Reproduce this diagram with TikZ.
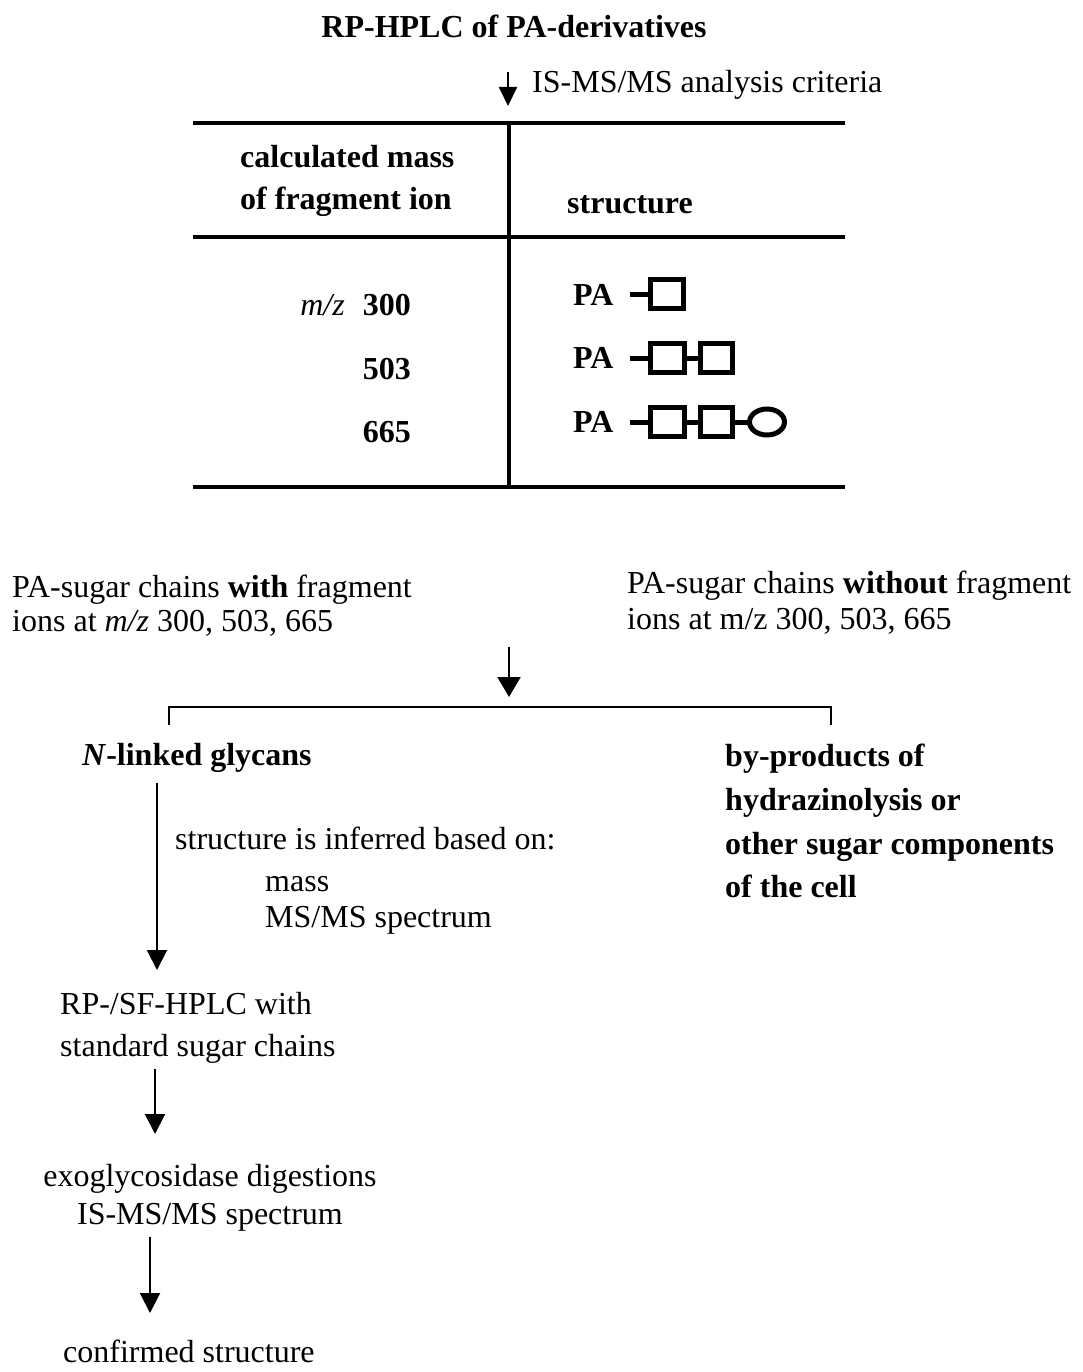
\documentclass[tikz,border=0pt]{standalone}
\usepackage{fontspec}
\setmainfont{Liberation Serif}
\usetikzlibrary{arrows.meta}
\begin{document}
\begin{tikzpicture}[x=1pt,y=-1pt,
  txt/.style={inner sep=0pt, font=\fontsize{32}{38}\selectfont, anchor=base west},
  ctxt/.style={txt, anchor=base},
  rtxt/.style={txt, anchor=base east},
  tablerule/.style={line width=4pt},
  flow/.style={line width=2pt, -{Triangle[length=20pt,width=20pt]}},
  bracketline/.style={line width=1.6pt},
  sugar/.style={line width=5pt}]
\useasboundingbox[fill=white] (0,0) rectangle (1082,1372);

% title and first arrow
\node[ctxt] (title) at (514,38) {\textbf{RP-HPLC of PA-derivatives}};
\coordinate (a0s) at (508,72);
\coordinate (a0e) at (508,106);
\draw[flow, -{Triangle[length=19pt,width=18pt]}] (a0s) -- (a0e);
\node[txt] (crit) at (532,93) {IS-MS/MS analysis criteria};

% table
\coordinate (tl) at (193,123); \coordinate (tr) at (845,123);
\coordinate (ml) at (193,237); \coordinate (mr) at (845,237);
\coordinate (bl) at (193,487); \coordinate (br) at (845,487);
\coordinate (vt) at (509,123); \coordinate (vb) at (509,487);
\draw[tablerule] (tl) -- (tr);
\draw[tablerule] (ml) -- (mr);
\draw[tablerule] (bl) -- (br);
\draw[tablerule] (vt) -- (vb);

\node[txt] (h1) at (240,168) {\textbf{calculated mass}};
\node[txt] (h2) at (240,210) {\textbf{of fragment ion}};
\node[txt] (h3) at (567,214) {\textbf{structure}};

\node[rtxt] (mz) at (345,315) {\textit{m/z}};
\node[rtxt] (m1) at (411,315) {\textbf{300}};
\node[rtxt] (m2) at (411,379) {\textbf{503}};
\node[rtxt] (m3) at (411,442) {\textbf{665}};

\node[txt] (pa1) at (573,305) {\textbf{PA}};
\node[txt] (pa2) at (573,368) {\textbf{PA}};
\node[txt] (pa3) at (573,432) {\textbf{PA}};

% row 1
\draw[sugar] (630,294) -- (650.5,294);
\draw[sugar] (650.5,279.5) rectangle (683.5,308.5);
% row 2
\draw[sugar] (630,358) -- (650.5,358);
\draw[sugar] (650.5,343.5) rectangle (684.5,372.5);
\draw[sugar] (684.5,358) -- (700.5,358);
\draw[sugar] (700.5,343.5) rectangle (732.5,372.5);
% row 3
\draw[sugar] (630,422) -- (650.5,422);
\draw[sugar] (650.5,407.5) rectangle (684.5,436.5);
\draw[sugar] (684.5,422) -- (700.5,422);
\draw[sugar] (700.5,407.5) rectangle (732.5,436.5);
\draw[sugar] (732.5,422) -- (749.5,422);
\draw[sugar] (767,422) ellipse [x radius=17.5pt, y radius=13pt];

% split
\node[txt] (w1) at (12,597) {PA-sugar chains \textbf{with} fragment};
\node[txt] (w2) at (12,631) {ions at \textit{m/z} 300, 503, 665};
\node[txt] (o1) at (627,593) {PA-sugar chains \textbf{without} fragment};
\node[txt] (o2) at (627,629) {ions at m/z 300, 503, 665};

\coordinate (a1s) at (509,647);
\coordinate (a1e) at (509,697);
\draw[flow, -{Triangle[length=20pt,width=23pt]}] (a1s) -- (a1e);
\coordinate (bkl) at (169,725); \coordinate (bkr) at (831,725);
\draw[bracketline] (bkl) -- (169,707) -- (831,707) -- (bkr);

\node[txt] (nl) at (82,765) {\textbf{\textit{N}-linked glycans}};
\node[txt] (bp1) at (725,766) {\textbf{by-products of}};
\node[txt] (bp2) at (725,810) {\textbf{hydrazinolysis or}};
\node[txt] (bp3) at (725,854) {\textbf{other sugar components}};
\node[txt] (bp4) at (725,897) {\textbf{of the cell}};

\coordinate (a2s) at (157,783);
\coordinate (a2e) at (157,970);
\draw[flow] (a2s) -- (a2e);
\node[txt] (inf) at (175,849) {structure is inferred based on:};
\node[txt] (ms) at (265,891) {mass};
\node[txt] (msms) at (265,927) {MS/MS spectrum};

\node[txt] (rp1) at (60,1014) {RP-/SF-HPLC with};
\node[txt] (rp2) at (60,1056) {standard sugar chains};
\coordinate (a3s) at (155,1069);
\coordinate (a3e) at (155,1134);
\draw[flow] (a3s) -- (a3e);

\node[ctxt] (ex1) at (210,1186) {exoglycosidase digestions};
\node[ctxt] (ex2) at (210,1224) {IS-MS/MS spectrum};
\coordinate (a4s) at (150,1237);
\coordinate (a4e) at (150,1313);
\draw[flow] (a4s) -- (a4e);

\node[txt] (conf) at (63,1362) {confirmed structure};
\end{tikzpicture}
\end{document}
